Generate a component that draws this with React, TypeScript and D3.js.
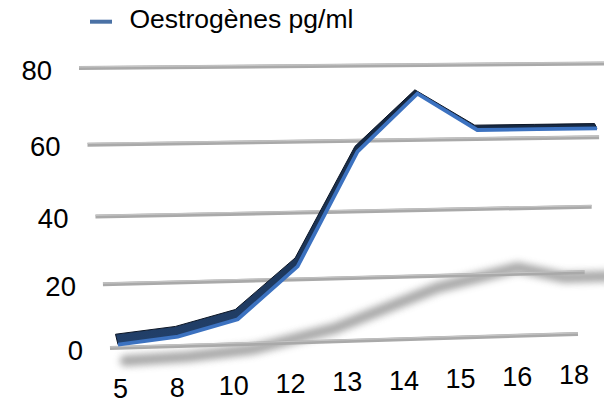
import React from "react";
import * as d3 from "d3";

const categories = ["5", "8", "10", "12", "13", "14", "15", "16", "18"];
const oestrogenValues = [1, 3, 8, 24, 57, 72.5, 62.5, 62.5, 62.5];
const yTicks = [0, 20, 40, 60, 80];
const seriesName = "Oestrogènes pg/ml";

const W = 604;
const H = 401;

// back wall corners (u: 0..1 across, t: 0..1 up)
const BL: [number, number] = [110, 348];
const BR: [number, number] = [578, 334];
const TR: [number, number] = [607, 63.5];
const TL: [number, number] = [79, 68];

function makeHomography(p0: number[], p1: number[], p2: number[], p3: number[]) {
  const [x0, y0] = p0, [x1, y1] = p1, [x2, y2] = p2, [x3, y3] = p3;
  const dx1 = x1 - x2, dx2 = x3 - x2, dx3 = x0 - x1 + x2 - x3;
  const dy1 = y1 - y2, dy2 = y3 - y2, dy3 = y0 - y1 + y2 - y3;
  const den = dx1 * dy2 - dx2 * dy1;
  const g = (dx3 * dy2 - dx2 * dy3) / den;
  const h = (dx1 * dy3 - dx3 * dy1) / den;
  const a = x1 - x0 + g * x1, b = x3 - x0 + h * x3, c = x0;
  const d = y1 - y0 + g * y1, e = y3 - y0 + h * y3, f = y0;
  const fwd = (u: number, t: number): [number, number] => {
    const w = g * u + h * t + 1;
    return [(a * u + b * t + c) / w, (d * u + e * t + f) / w];
  };
  const yAtX = (X: number, t: number): number => {
    const u = (b * t + c - X * (h * t + 1)) / (X * g - a);
    return fwd(u, t)[1];
  };
  return { fwd, yAtX };
}

const wall = makeHomography(BL, BR, TR, TL);
const tScale = d3.scaleLinear().domain([0, 80]).range([0, 1]);
const lineX = d3.scalePoint<string>().domain(categories).range([118, 597]);
const labelX = d3.scalePoint<string>().domain(categories).range([120.5, 574]);

export default function App() {
  const front: [number, number][] = categories.map((c, i) => {
    const X = lineX(c) as number;
    return [X, wall.yAtX(X, tScale(oestrogenValues[i]))];
  });
  const back: [number, number][] = front.map(([x, y]) => [x - 2.5, y - (3.8 + (y - 90) * 0.026)]);
  const ribbon = [...front, ...back.slice().reverse()];
  const shadow: [number, number][] = categories.map((c, i) => {
    const v = oestrogenValues[i];
    const X = lineX(c) as number;
    const sx = X + 1.3 * v + 6;
    const sy = 362 - 0.03 * (sx - 124) - 1.14 * v;
    return [sx, sy];
  });
  const line = d3.line();
  const poly = (pts: [number, number][]) => "M" + pts.map((p) => p.join(",")).join("L") + "Z";

  return (
    <svg width={W} height={H} style={{ position: "absolute", left: 0, top: 0, background: "#fff" }}
      fontFamily="'Liberation Sans', Arial, Helvetica, sans-serif">
      <defs>
        <filter id="shblur" x="-20%" y="-50%" width="140%" height="200%">
          <feGaussianBlur stdDeviation="3.5" />
        </filter>
        <linearGradient id="ribbonFill" x1="0" y1="0" x2="0" y2="1">
          <stop offset="0" stopColor="#14253d" />
          <stop offset="1" stopColor="#22406a" />
        </linearGradient>
      </defs>
      {/* floor shadow */}
      <path d={line(shadow) as string} fill="none" stroke="#8c8c8c" strokeWidth={11}
        strokeLinejoin="round" strokeLinecap="round" opacity={0.75} filter="url(#shblur)" />
      {/* gridlines on back wall */}
      {yTicks.map((v) => {
        const p0 = wall.fwd(0, tScale(v));
        const p1 = wall.fwd(1, tScale(v));
        return (
          <g key={v}>
            <line x1={p0[0]} y1={p0[1]} x2={p1[0]} y2={p1[1]} stroke="#a9a9a9" strokeWidth={4} />
            <line x1={p0[0]} y1={p0[1] - 1.2} x2={p1[0]} y2={p1[1] - 1.2} stroke="#c4c4c4" strokeWidth={1.2} />
            <text x={p0[0] - 27} y={p0[1] + 11.5} textAnchor="end" fontSize={27.5} fill="#000">{v}</text>
          </g>
        );
      })}
      {/* 3D ribbon line */}
      <path d={poly(ribbon)} fill="url(#ribbonFill)" stroke="#0c1626" strokeWidth={1} strokeLinejoin="miter" />
      <path d={line(front) as string} fill="none" stroke="#3c72c0" strokeWidth={3.8} strokeLinejoin="miter" />
      {/* x labels */}
      {categories.map((c) => {
        const x = labelX(c) as number;
        return (
          <text key={c} x={x} y={398.5 - 0.031 * (x - 120)} textAnchor="middle" fontSize={27} fill="#000">{c}</text>
        );
      })}
      {/* legend */}
      <line x1={90} y1={21.7} x2={112} y2={21.7} stroke="#4a71a5" strokeWidth={4} />
      <text x={129.5} y={28.3} fontSize={26.5} fill="#000">{seriesName}</text>
    </svg>
  );
}
